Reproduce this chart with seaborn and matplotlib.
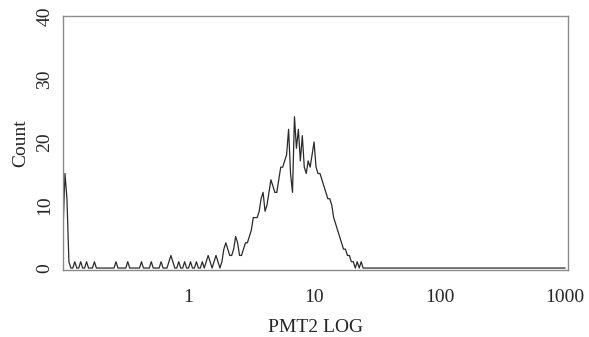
import numpy as np
import pandas as pd
import seaborn as sns
import matplotlib.pyplot as plt
from matplotlib.ticker import LogLocator, NullFormatter, FixedLocator, FixedFormatter

# histogram counts per channel (256 channels over 4 decades, 0.1 .. 1000)
counts = [6, 15, 11, 1, 0, 0, 1, 0, 0, 1,
          0, 0, 1, 0, 0, 0, 1, 0, 0, 0,
          0, 0, 0, 0, 0, 0, 0, 1, 0, 0,
          0, 0, 0, 1, 0, 0, 0, 0, 0, 0,
          1, 0, 0, 0, 0, 1, 0, 0, 0, 0,
          1, 0, 0, 0, 1, 2, 1, 0, 0, 1,
          0, 0, 1, 0, 0, 1, 0, 0, 1, 0,
          0, 1, 0, 1, 2, 1, 0, 1, 2, 1,
          0, 1, 3, 4, 3, 2, 2, 3, 5, 4,
          2, 2, 3, 4, 4, 5, 6, 8, 8, 8,
          9, 11, 12, 9, 10, 12, 14, 13, 12, 12,
          14, 16, 16, 17, 18, 22, 15, 12, 24, 19,
          22, 17, 21, 16, 15, 17, 16, 18, 20, 16,
          15, 15, 14, 13, 12, 11, 11, 10, 8, 7,
          6, 5, 4, 3, 3, 2, 2, 1, 1, 0,
          1, 0, 1, 0, 0]
tail_channel = 256
tail_count = 0

x_ticks = [1, 10, 100, 1000]
x_labels = ["1", "10", "100", "1000"]
y_ticks = [0, 10, 20, 30, 40]

channels = list(range(len(counts))) + [tail_channel]
vals = counts + [tail_count]
df = pd.DataFrame({"channel": channels, "Count": vals})
df["PMT2 LOG"] = 0.1 * 10 ** (df["channel"] / 64.0)

sns.set_style("white")
plt.rcParams['font.family'] = ['Liberation Serif', 'DejaVu Serif']

fig = plt.figure(figsize=(5.89, 3.37), dpi=100)
ax = fig.add_axes([0.107, 0.199, 0.857, 0.754])
sns.lineplot(data=df, x="PMT2 LOG", y="Count", color="#2a2a2a", linewidth=0.9, ax=ax)

ax.set_xscale("log")
ax.set_xlim(0.1, 1050)
ax.set_ylim(-0.3, 40)
ax.xaxis.set_major_locator(FixedLocator(x_ticks))
ax.xaxis.set_major_formatter(FixedFormatter(x_labels))
ax.xaxis.set_minor_locator(LogLocator(base=10, subs=np.arange(2, 10)))
ax.xaxis.set_minor_formatter(NullFormatter())
ax.set_yticks(y_ticks)
ax.set_yticklabels([str(v) for v in y_ticks], rotation=90, va="center")

ax.tick_params(axis="both", which="major", direction="out", length=3, width=0.8,
               color="#777777", labelsize=14)
ax.tick_params(axis="x", which="minor", direction="out", length=2, width=0.6, color="#777777")
ax.tick_params(axis="x", which="major", pad=11)
ax.tick_params(axis="y", which="major", pad=4)
for s in ax.spines.values():
    s.set_color("#8a8a8a")
    s.set_linewidth(1.0)

ax.set_xlabel("PMT2 LOG", fontsize=14, labelpad=9)
ax.set_ylabel("Count", fontsize=14, labelpad=5)

fig.savefig("out.png", dpi=100)
